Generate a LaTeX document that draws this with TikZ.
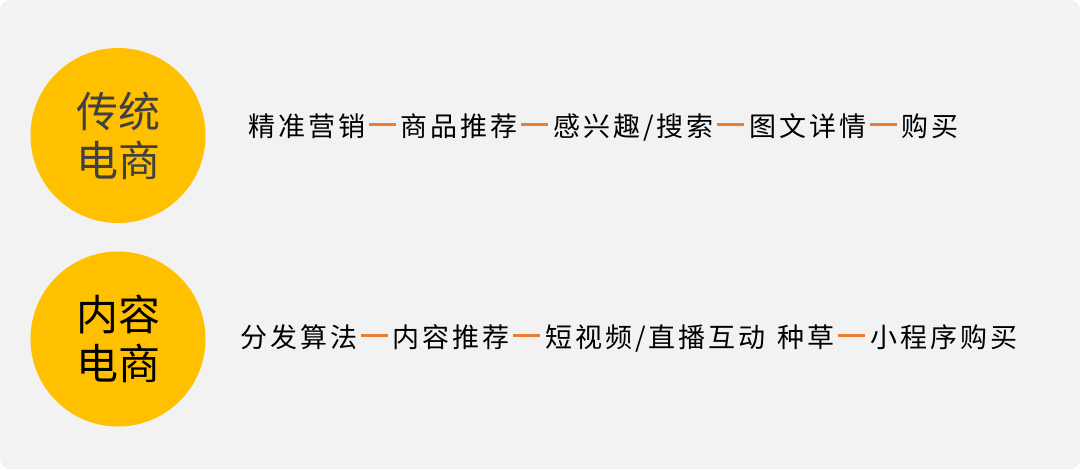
\documentclass[tikz,border=0pt]{standalone}
\usepackage{fontspec}
\newfontfamily\cjk{Noto Sans CJK SC}
\definecolor{ycol}{HTML}{FFC000}
\definecolor{bgc}{HTML}{F2F2F2}
\definecolor{dashor}{HTML}{ED7D31}
\definecolor{dgray}{HTML}{404040}
\newdimen\chk \chk=3.0pt
\def\spc#1{\spcx#1\relax}
\def\spcx#1{\ifx#1\relax\else#1\kern\chk\expandafter\spcx\fi}
\newcommand\odash{\kern0.5pt\textcolor{dashor}{\rule[10.5pt]{27pt}{2.6pt}}\kern5pt}
\tikzset{
  bubble/.style={circle, fill=ycol, minimum size=175pt, inner sep=0pt, align=center,
    font={\cjk\fontsize{42}{49}\selectfont}},
  flow/.style={anchor=west, inner sep=0pt, font={\cjk\fontsize{27}{32}\selectfont}, text=black}
}
\begin{document}
\begin{tikzpicture}[x=1pt,y=-1pt]
\useasboundingbox (0,0) rectangle (1080,469);
\fill[bgc, rounded corners=10pt] (0,0) rectangle (1080,469);
\node[bubble, text=dgray] (c1) at (118,135.5) {传统\\电商};
\node[bubble, text=black] (c2) at (118,339) {内容\\电商};
\node[flow] (r1) at (248,127) {\spc{精准营销}\odash\spc{商品推荐}\odash\spc{感兴趣/搜索}\odash\spc{图文详情}\odash\spc{购买}};
\node[flow] (r2) at (240,338) {\spc{分发算法}\odash\spc{内容推荐}\odash\spc{短视频/直播互动}\hspace{9pt}\spc{种草}\odash\spc{小程序购买}};
\end{tikzpicture}
\end{document}
